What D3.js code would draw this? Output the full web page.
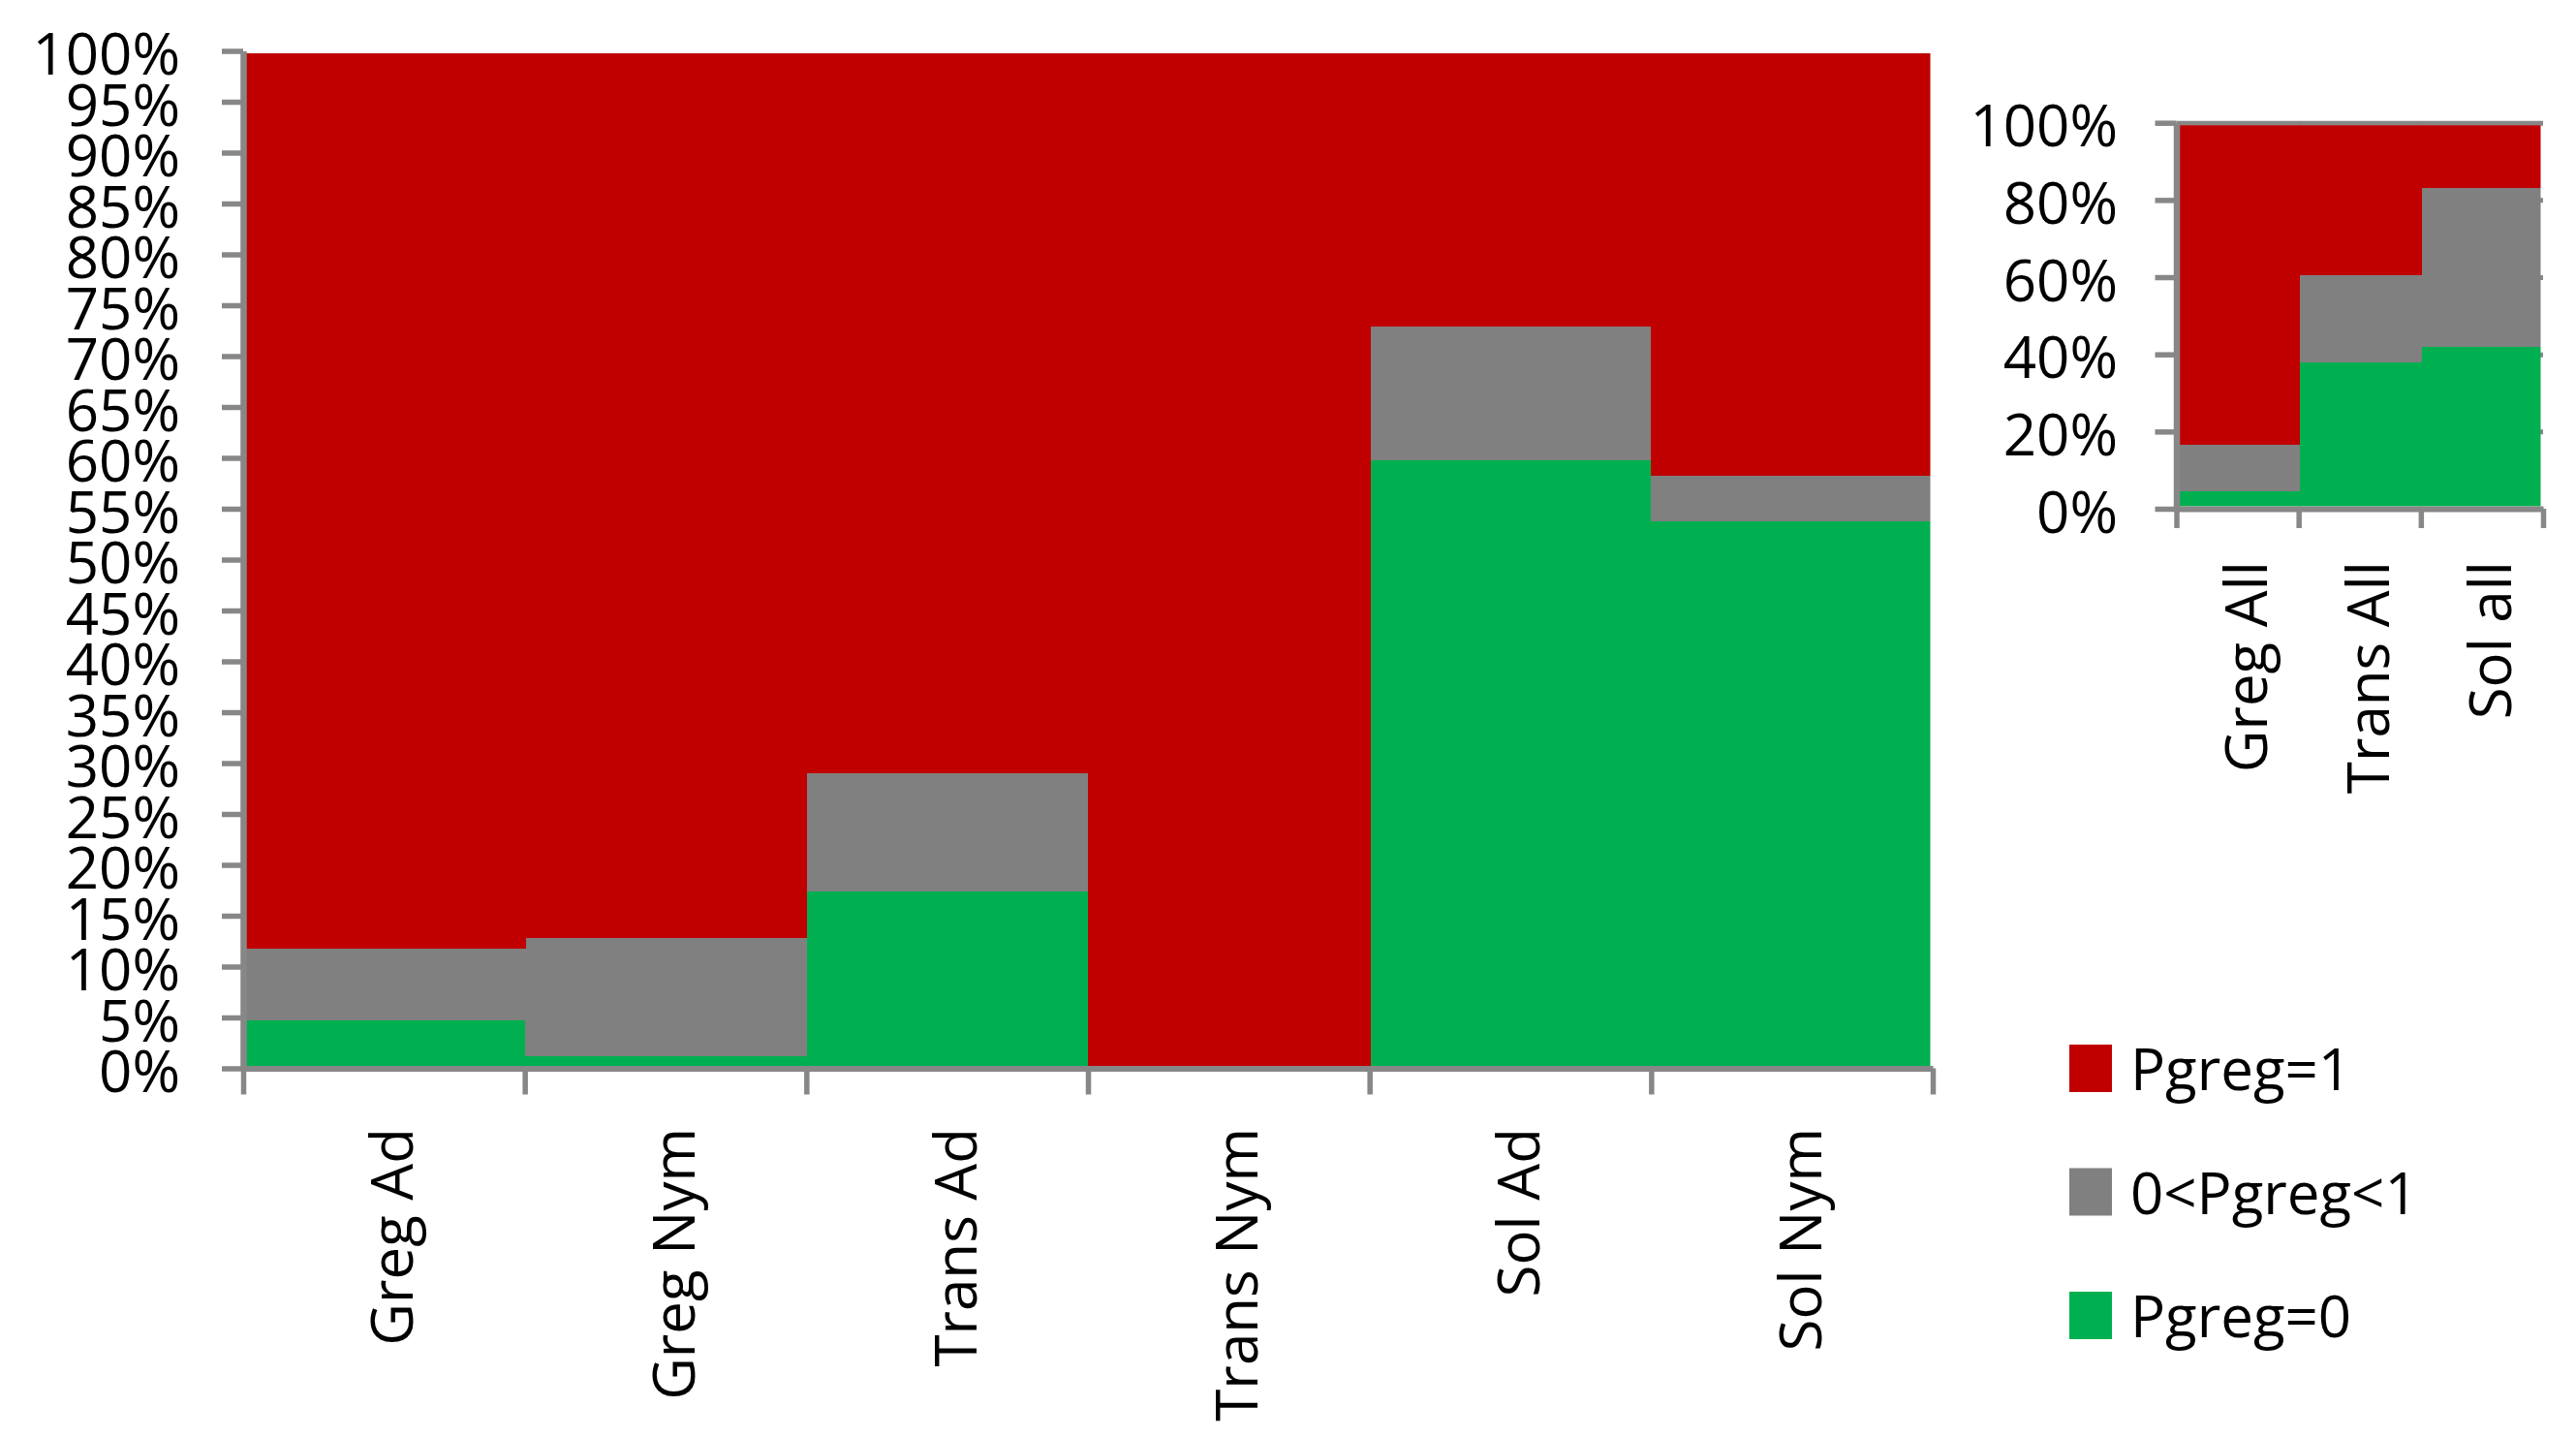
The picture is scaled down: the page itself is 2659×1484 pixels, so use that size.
<!DOCTYPE html>
<html>
<head>
<meta charset="utf-8">
<script src="https://cdn.jsdelivr.net/npm/d3@7"></script>
<style>
  html, body { margin: 0; padding: 0; background: #fff; }
  svg { display: block; }
  text { font-family: "Open Sans", "Noto Sans", sans-serif; fill: #000; }
</style>
</head>
<body>
<svg id="chart" width="2659" height="1484"></svg>
<script>
// ---------- data ----------
const categories = ["Greg Ad", "Greg Nym", "Trans Ad", "Trans Nym", "Sol Ad", "Sol Nym"];
const pgreg0   = [4.7, 1.2, 17.4, 0, 59.8, 53.8];
const pgregMid = [7.1, 11.6, 11.6, 0, 13.1, 4.4];
const pgreg1   = [88.2, 87.2, 71.0, 100, 27.1, 41.8];

const categoriesAll = ["Greg All", "Trans All", "Sol all"];
const pgreg0All   = [4.5, 37.9, 42.0];
const pgregMidAll = [12.1, 22.6, 41.1];
const pgreg1All   = [83.4, 39.5, 16.9];

const mainTicks  = [0, 5, 10, 15, 20, 25, 30, 35, 40, 45, 50, 55, 60, 65, 70, 75, 80, 85, 90, 95, 100];
const insetTicks = [0, 20, 40, 60, 80, 100];

const seriesKeys   = ["p0", "pmid", "p1"];
const seriesLabels = ["Pgreg=0", "0<Pgreg<1", "Pgreg=1"];
const seriesColors = ["#00B050", "#808080", "#C00000"];

// ---------- helpers ----------
const svg = d3.select("#chart");
const AXIS = "#878787";
const FONT = 60;

function drawPanel(opts) {
  const { cats, s0, sm, s1, x0, x1, yTop, yBot, ticks, labelAnchorX, gridlines, clipId, labelEndY } = opts;
  const rows = cats.map((c, i) => ({ cat: c, p0: s0[i], pmid: sm[i], p1: s1[i] }));
  const stacked = d3.stack().keys(seriesKeys)(rows);

  const y = d3.scaleLinear().domain([0, 100]).range([yBot, yTop]);
  const xb = d3.scaleBand().domain(cats).range([x0, x1]).padding(0);
  const xl = d3.scaleLinear().domain([0, cats.length]).range([x0, x1]);

  const g = svg.append("g");

  // clip for plot area (inside the axis lines)
  svg.append("defs").append("clipPath").attr("id", clipId)
    .append("rect")
    .attr("x", x0 + 3).attr("y", yTop + 2.5)
    .attr("width", (x1 - 2.5) - (x0 + 3))
    .attr("height", (yBot - 2.5) - (yTop + 2.5));

  // gridlines (inset only)
  if (gridlines) {
    g.append("g")
      .attr("transform", `translate(${x0},0)`)
      .call(d3.axisRight(y).tickValues(ticks.filter(t => t > 0)).tickSize(x1 - x0).tickSizeOuter(0).tickFormat(""))
      .call(s => s.select(".domain").remove())
      .call(s => s.selectAll("line").attr("stroke", AXIS).attr("stroke-width", 5));
  }

  // bars
  const bars = g.append("g").attr("clip-path", `url(#${clipId})`).attr("shape-rendering", "crispEdges");
  stacked.forEach((layer, li) => {
    bars.append("g").attr("fill", seriesColors[li])
      .selectAll("rect").data(layer).join("rect")
      .attr("x", d => Math.round(xb(d.data.cat)))
      .attr("width", d => Math.round(xb(d.data.cat) + xb.bandwidth()) - Math.round(xb(d.data.cat)) + 1)
      .attr("y", d => Math.round(y(d[1])))
      .attr("height", d => Math.round(y(d[0])) - Math.round(y(d[1])));
  });

  // y axis
  const yAxis = g.append("g")
    .attr("transform", `translate(${x0},0)`)
    .call(d3.axisLeft(y).tickValues(ticks).tickSize(22).tickSizeOuter(0)
      .tickPadding(x0 - labelAnchorX - 22).tickFormat(d => d + "%"));
  yAxis.select(".domain").attr("stroke", AXIS).attr("stroke-width", 6.5);
  yAxis.selectAll(".tick line").attr("stroke", AXIS).attr("stroke-width", 5.5);
  yAxis.selectAll(".tick text")
    .attr("font-size", FONT)
    .attr("font-family", "'Open Sans', sans-serif")
    .attr("fill", "#000")
    .attr("dy", "0.4em");

  // x axis (ticks at category boundaries)
  const xAxis = g.append("g")
    .attr("transform", `translate(0,${yBot})`)
    .call(d3.axisBottom(xl).tickValues(d3.range(cats.length + 1)).tickSize(opts.xTickLen).tickSizeOuter(0).tickFormat(""));
  xAxis.select(".domain").attr("stroke", AXIS).attr("stroke-width", 6);
  xAxis.selectAll(".tick line").attr("stroke", AXIS).attr("stroke-width", 5.5);

  // category labels, rotated
  g.append("g").selectAll("text").data(cats).join("text")
    .attr("transform", d => `translate(${xb(d) + xb.bandwidth() / 2 + 30},${labelEndY}) rotate(-90)`)
    .attr("text-anchor", "end")
    .attr("font-size", FONT)
    .text(d => d);
}

// main panel
drawPanel({
  cats: categories, s0: pgreg0, sm: pgregMid, s1: pgreg1,
  x0: 251, x1: 1995, yTop: 52.5, yBot: 1102.5,
  ticks: mainTicks, labelAnchorX: 186, gridlines: false,
  clipId: "clipMain", labelEndY: 1164, xTickLen: 27
});

// inset panel
drawPanel({
  cats: categoriesAll, s0: pgreg0All, sm: pgregMidAll, s1: pgreg1All,
  x0: 2246.5, x1: 2625, yTop: 126.7, yBot: 525,
  ticks: insetTicks, labelAnchorX: 2186, gridlines: true,
  clipId: "clipInset", labelEndY: 579, xTickLen: 20
});

// legend (top to bottom: Pgreg=1, 0<Pgreg<1, Pgreg=0)
const legendOrder = [2, 1, 0];
const legendY = d3.scalePoint().domain(legendOrder).range([1078, 1333]);
const leg = svg.append("g").selectAll("g").data(legendOrder).join("g")
  .attr("transform", d => `translate(2136,${legendY(d)})`);
leg.append("rect").attr("width", 44).attr("height", 49).attr("fill", d => seriesColors[d]);
leg.append("text").attr("x", 63).attr("y", 47).attr("font-size", FONT).text(d => seriesLabels[d]);
</script>
</body>
</html>
